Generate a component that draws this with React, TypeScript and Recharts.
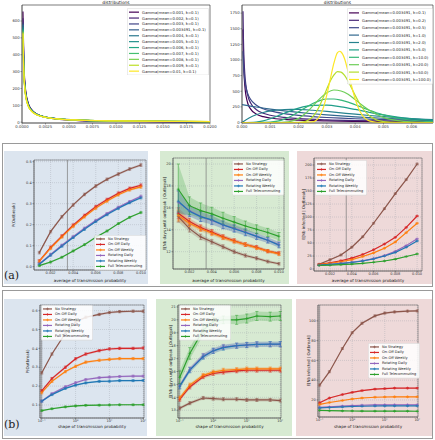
import React from "react";
import {
  ComposedChart,
  LineChart,
  Line,
  Area,
  XAxis,
  YAxis,
  CartesianGrid,
  ReferenceLine,
  ReferenceArea,
  ErrorBar,
  Legend,
} from "recharts";

// figure: two gamma-distribution panels on top, then (a) and (b) strategy comparisons

const FONT = "DejaVu Sans";

type Pt = [number, number];

// ---------- top-left: Gamma(mean, k=0.1) ----------
const TL_X = [0.0001, 0.0002, 0.0004, 0.0007, 0.001, 0.0015, 0.002, 0.003, 0.004, 0.006, 0.008, 0.01, 0.013, 0.016, 0.02];
const TL_LABELS = ["0.001", "0.002", "0.003", "0.003491", "0.004", "0.005", "0.006", "0.007", "0.008", "0.009", "0.01"];
const TL_COLORS = ["#440154", "#482475", "#414487", "#355f8d", "#2a788e", "#21918c", "#22a884", "#44bf70", "#7ad151", "#bddf26", "#fde725"];
const pdfM0010 = [656, 348, 183, 107, 75.6, 50, 36.7, 23, 16, 9.1, 5.8, 3.9, 2.3, 1.4, 0.76];
const pdfM0020 = [616, 328, 174, 104, 74, 50, 37.9, 25, 18.3, 11.5, 8.0, 5.95, 4.0, 2.9, 1.9];
const pdfM0030 = [592, 316, 168.5, 100.7, 72.4, 49.4, 37.6, 25.2, 18.8, 12.2, 8.8, 6.75, 4.8, 3.6, 2.6];
const pdfM0035 = [584, 312, 166, 99.5, 71.7, 49, 37.4, 25.2, 18.8, 12.4, 9.0, 7.0, 5.0, 3.8, 2.8];
const pdfM0040 = [576, 308, 164, 98.5, 70.9, 48.6, 37.2, 25.1, 18.9, 12.5, 9.2, 7.1, 5.2, 4.0, 3.0];
const pdfM0050 = [563, 301, 161, 96.6, 69.7, 47.9, 36.7, 24.9, 18.8, 12.6, 9.3, 7.3, 5.4, 4.25, 3.2];
const pdfM0060 = [553, 296, 158, 95, 68.6, 47.3, 36.3, 24.7, 18.7, 12.6, 9.4, 7.4, 5.6, 4.4, 3.4];
const pdfM0070 = [545, 292, 156, 93.8, 67.8, 46.8, 35.9, 24.5, 18.6, 12.6, 9.4, 7.5, 5.7, 4.5, 3.5];
const pdfM0080 = [538, 288, 154, 92.6, 67, 46.2, 35.5, 24.3, 18.5, 12.5, 9.4, 7.5, 5.7, 4.6, 3.6];
const pdfM0090 = [532, 285, 152, 91.6, 66.3, 45.8, 35.2, 24.1, 18.4, 12.5, 9.4, 7.5, 5.8, 4.6, 3.6];
const pdfM0100 = [526, 282, 151, 90.8, 65.7, 45.4, 34.9, 23.9, 18.3, 12.5, 9.4, 7.55, 5.8, 4.66, 3.66];
const TL_SERIES = [pdfM0010, pdfM0020, pdfM0030, pdfM0035, pdfM0040, pdfM0050, pdfM0060, pdfM0070, pdfM0080, pdfM0090, pdfM0100];

// ---------- top-right: Gamma(mean=0.003491, k) ----------
const TR_LABELS = ["0.1", "0.2", "0.5", "1.0", "2.0", "5.0", "10.0", "20.0", "50.0", "100.0"];
const TR_COLORS = ["#440154", "#482878", "#3e4989", "#31688e", "#26828e", "#1f9e89", "#35b779", "#6ece58", "#b5de2b", "#fde725"];
const k01: Pt[] = [[0.000035, 1490], [0.00005, 1092], [0.0001, 585], [0.0002, 312], [0.0003, 218], [0.0005, 136], [0.00075, 93], [0.001, 71.6], [0.0015, 49], [0.002, 37.3], [0.003, 25.2], [0.004, 18.9], [0.005, 15], [0.006, 12.4], [0.007, 10.5]];
const k02: Pt[] = [[0.000035, 1780], [0.00005, 1350], [0.0001, 776], [0.0002, 440], [0.0003, 316], [0.0005, 208], [0.00075, 148], [0.001, 116], [0.0015, 81], [0.002, 63], [0.003, 43], [0.004, 32], [0.005, 25.5], [0.006, 20.8], [0.007, 17.3]];
const k05: Pt[] = [[0.000035, 1141], [0.00005, 948], [0.0001, 666], [0.0002, 464], [0.0003, 373], [0.0005, 281], [0.00075, 221], [0.001, 185], [0.0015, 141], [0.002, 113], [0.0025, 94], [0.003, 80], [0.0035, 69], [0.004, 60], [0.005, 46.7], [0.006, 36.9], [0.007, 29.6]];
const k1: Pt[] = [[0, 286], [0.0005, 248], [0.001, 215], [0.0015, 186], [0.002, 161], [0.0025, 140], [0.003, 121], [0.0035, 105], [0.004, 91], [0.0045, 79], [0.005, 68], [0.0055, 59], [0.006, 51], [0.0065, 44.5], [0.007, 38.5]];
const k2: Pt[] = [[0, 0], [0.00025, 71], [0.0005, 123], [0.00075, 160], [0.001, 185], [0.0015, 208], [0.002, 209], [0.0025, 196], [0.003, 177], [0.0035, 155], [0.004, 133], [0.0045, 112], [0.005, 94], [0.0055, 77], [0.006, 63], [0.0065, 51], [0.007, 42]];
const k5: Pt[] = [[0, 0], [0.0005, 7.7], [0.00075, 27], [0.001, 60], [0.00125, 102], [0.0015, 148], [0.002, 229], [0.0025, 273], [0.003, 277], [0.0035, 250], [0.004, 209], [0.0045, 163], [0.005, 122], [0.0055, 87], [0.006, 60], [0.0065, 41], [0.007, 26.5]];
const k10: Pt[] = [[0, 0], [0.0005, 0.1], [0.001, 5.9], [0.00125, 21], [0.0015, 54], [0.00175, 105], [0.002, 171], [0.00225, 241], [0.0025, 304], [0.00275, 351], [0.003, 376], [0.00325, 376], [0.0035, 357], [0.00375, 327], [0.004, 284], [0.00425, 240], [0.0045, 197], [0.00475, 156], [0.005, 121], [0.0055, 68], [0.006, 36], [0.0065, 17.5], [0.007, 8]];
const k20: Pt[] = [[0, 0], [0.001, 0], [0.00125, 0.7], [0.0015, 4.9], [0.00175, 22], [0.002, 66], [0.00225, 147], [0.0025, 261], [0.00275, 381], [0.003, 475], [0.00325, 520], [0.0035, 504], [0.00375, 452], [0.004, 366], [0.00425, 276], [0.0045, 195], [0.00475, 131], [0.005, 82], [0.0055, 29], [0.006, 8.6], [0.0065, 2.5], [0.007, 0.6]];
const k50: Pt[] = [[0, 0], [0.0015, 0], [0.002, 2.1], [0.00225, 19], [0.0025, 92], [0.002625, 168], [0.00275, 274], [0.002875, 405], [0.003, 541], [0.003125, 667], [0.00325, 761], [0.003375, 815], [0.0035, 807], [0.003625, 753], [0.00375, 661], [0.003875, 547], [0.004, 434], [0.004125, 329], [0.00425, 236], [0.0045, 108], [0.00475, 42.7], [0.005, 14.6], [0.0055, 1.2], [0.006, 0], [0.007, 0]];
const k100: Pt[] = [[0, 0], [0.002, 0], [0.0025, 10.8], [0.002625, 37], [0.00275, 104.5], [0.002875, 237], [0.003, 445], [0.003125, 705], [0.00325, 953], [0.003375, 1118], [0.003456, 1140], [0.0035, 1129], [0.003625, 1021], [0.00375, 811], [0.003875, 583], [0.004, 376], [0.004125, 221], [0.00425, 119], [0.004375, 58], [0.0045, 26.3], [0.00475, 4.3], [0.005, 0], [0.007, 0]];
const TR_SERIES = [k01, k02, k05, k1, k2, k5, k10, k20, k50, k100];

// ---------- strategies ----------
const STRATEGIES = ["No Strategy", "On-Off Daily", "On-Off Weekly", "Rotating Daily", "Rotating Weekly", "Full Telecommuting"];
const STRAT_COLORS = ["#8c564b", "#d62728", "#ff7f0e", "#9467bd", "#1f77b4", "#2ca02c"];

const AVG_P = [0.001, 0.002, 0.003, 0.004, 0.005, 0.006, 0.007, 0.008, 0.009, 0.01];
const SHAPE_K = [0.1, 0.2, 0.5, 1, 2, 5, 10, 20, 50, 100];
const AVG_TICKS = [0.002, 0.004, 0.006, 0.008, 0.01];
const SHAPE_TICKS = [0.1, 1, 10, 100];
const CURRENT_P = 0.003491;
const CURRENT_K = 0.1;

const A_P_OUTBREAK = [
  [0.067, 0.167, 0.238, 0.294, 0.344, 0.384, 0.416, 0.441, 0.465, 0.484],
  [0.027, 0.092, 0.146, 0.198, 0.244, 0.286, 0.32, 0.35, 0.373, 0.388],
  [0.026, 0.088, 0.142, 0.193, 0.238, 0.279, 0.313, 0.343, 0.366, 0.38],
  [0.013, 0.058, 0.102, 0.143, 0.183, 0.22, 0.253, 0.283, 0.31, 0.335],
  [0.012, 0.055, 0.098, 0.139, 0.178, 0.215, 0.248, 0.278, 0.305, 0.328],
  [0.005, 0.022, 0.045, 0.075, 0.105, 0.14, 0.17, 0.205, 0.235, 0.258],
];
const A_P_OUTBREAK_ERR = [0.006, 0.006, 0.006, 0.005, 0.005, 0.004];

const A_DAYS = [
  [15.2, 14.1, 13.35, 12.9, 12.45, 12.0, 11.65, 11.4, 11.1, 10.9],
  [15.5, 14.75, 14.2, 13.8, 13.35, 13.0, 12.65, 12.4, 12.05, 11.85],
  [15.3, 14.6, 14.1, 13.7, 13.3, 12.95, 12.65, 12.35, 12.05, 11.8],
  [16.5, 15.75, 15.2, 14.85, 14.45, 14.15, 13.8, 13.4, 13.05, 12.65],
  [16.6, 15.7, 15.2, 14.9, 14.45, 14.1, 13.75, 13.4, 13.05, 12.6],
  [17.7, 16.2, 15.75, 15.45, 15.05, 14.7, 14.35, 14.05, 13.75, 13.4],
];
const A_DAYS_ERR = [
  [0.5, 0.3, 0.25, 0.2, 0.18, 0.16, 0.15, 0.14, 0.13, 0.12],
  [0.5, 0.3, 0.25, 0.22, 0.2, 0.18, 0.17, 0.16, 0.15, 0.15],
  [0.5, 0.3, 0.25, 0.22, 0.2, 0.18, 0.17, 0.16, 0.15, 0.15],
  [1.0, 0.5, 0.45, 0.4, 0.35, 0.32, 0.3, 0.28, 0.26, 0.25],
  [1.0, 0.5, 0.45, 0.4, 0.35, 0.32, 0.3, 0.28, 0.26, 0.25],
  [2.3, 0.8, 0.7, 0.6, 0.55, 0.5, 0.45, 0.4, 0.38, 0.35],
];

const A_INFECTED = [
  [9, 18, 27, 42, 62, 88, 116, 145, 172, 202],
  [9, 12, 16, 21, 28, 37, 48, 61, 80, 102],
  [8.5, 11, 14, 18, 24, 31, 40, 52, 70, 88],
  [7.5, 9, 11, 13, 16, 20, 26, 34, 45, 58],
  [7.5, 9, 10.5, 12.5, 15.5, 19.5, 25, 32, 42, 54],
  [7, 7.5, 8.5, 9.5, 11, 13, 15.5, 19, 24, 29],
];
const A_INFECTED_ERR = [1.5, 1.0, 1.0, 0.8, 0.8, 0.5];

const B_P_OUTBREAK = [
  [0.27, 0.37, 0.48, 0.54, 0.565, 0.58, 0.59, 0.595, 0.597, 0.597],
  [0.175, 0.24, 0.3, 0.345, 0.37, 0.388, 0.397, 0.4, 0.4, 0.402],
  [0.165, 0.225, 0.277, 0.305, 0.327, 0.337, 0.342, 0.346, 0.346, 0.346],
  [0.12, 0.16, 0.197, 0.218, 0.235, 0.245, 0.248, 0.251, 0.253, 0.253],
  [0.12, 0.155, 0.188, 0.205, 0.217, 0.225, 0.226, 0.229, 0.229, 0.23],
  [0.07, 0.08, 0.09, 0.095, 0.098, 0.099, 0.1, 0.101, 0.101, 0.101],
];
const B_P_OUTBREAK_ERR = [0.006, 0.006, 0.006, 0.005, 0.005, 0.004];

const B_DAYS = [
  [13.15, 13.55, 13.95, 13.9, 13.85, 13.85, 13.8, 13.8, 13.8, 13.75],
  [13.85, 14.8, 15.6, 15.85, 15.95, 16.05, 16.1, 16.1, 16.1, 16.1],
  [13.95, 14.95, 15.7, 15.95, 16.1, 16.15, 16.2, 16.2, 16.2, 16.2],
  [14.9, 16.15, 17.2, 17.6, 17.9, 18.0, 18.05, 18.1, 18.1, 18.1],
  [14.85, 16.1, 17.15, 17.6, 17.85, 18.0, 18.05, 18.1, 18.12, 18.12],
  [15.55, 17.4, 19.2, 19.85, 20.0, 20.0, 20.1, 20.3, 20.25, 20.3],
];
const B_DAYS_ERR: (number | number[])[] = [0.12, 0.15, 0.15, 0.2, 0.2, [0.5, 0.45, 0.4, 0.35, 0.3, 0.35, 0.35, 0.35, 0.35, 0.35]];

const B_INFECTED = [
  [35, 48.6, 72, 88, 97.5, 105, 107.8, 109, 109.8, 110],
  [17.2, 22, 25.5, 27.7, 29.5, 31, 31.5, 32, 32, 32],
  [15.5, 17.5, 19.5, 21, 22, 22.8, 23, 23.2, 23.2, 23.2],
  [12.5, 13, 13.8, 14.3, 14.7, 15, 15.1, 15.2, 15.2, 15.2],
  [12, 12.4, 13, 13.4, 13.7, 13.9, 14, 14, 14, 14],
  [9.5, 9.2, 9.0, 8.9, 8.8, 8.7, 8.7, 8.7, 8.7, 8.6],
];
const B_INFECTED_ERR = [1.0, 0.6, 0.5, 0.4, 0.4, 0.3];

// ---------- shared bits ----------
type Box = { left: number; top: number; w: number; h: number };

const distTick = { fontSize: 3.8, fill: "#333", fontFamily: FONT };
const stratTick = { fontSize: 3.5, fill: "#333", fontFamily: FONT };
const axisStroke = { stroke: "#444", strokeWidth: 0.5 };
const SUPER: Record<string, string> = { "-1": "10\u207B\u00B9", "0": "10\u2070", "1": "10\u00B9", "2": "10\u00B2" };
const fmtLog = (v: number) => SUPER[String(Math.round(Math.log10(v)))] ?? String(v);

const plusDot = (color: string) => (p: any) => {
  if (p.cx == null || p.cy == null) return <g key={`d${p.index}`} />;
  return (
    <path
      key={`d${p.index}`}
      d={`M${p.cx - 1.5},${p.cy}h3M${p.cx},${p.cy - 1.5}v3`}
      stroke={color}
      strokeWidth={0.6}
      fill="none"
    />
  );
};

// legend drawn in series order (recharts sorts by name otherwise)
const legendBox =
  (o: { w: number; rowH: number; font: number; line: number; order: string[]; marker?: boolean }) => (props: any) => {
    const items = (props.payload ?? [])
      .filter((it: any) => it.type !== "none" && o.order.includes(it.value))
      .sort((a: any, b: any) => o.order.indexOf(a.value) - o.order.indexOf(b.value));
    const h = items.length * o.rowH + 2.5;
    return (
      <svg width={o.w} height={h} style={{ display: "block" }}>
        <rect x={0.3} y={0.3} width={o.w - 0.6} height={h - 0.6} rx={1.2} fill="#fff" fillOpacity={0.85} stroke="#ccc" strokeWidth={0.5} />
        {items.map((it: any, i: number) => {
          const y = 1.2 + o.rowH * (i + 0.5);
          const c = it.color;
          return (
            <g key={it.value}>
              <line x1={2} x2={2 + o.line} y1={y} y2={y} stroke={c} strokeWidth={1.2} />
              {o.marker && <path d={`M${2 + o.line / 2 - 1.4},${y}h2.8M${2 + o.line / 2},${y - 1.4}v2.8`} stroke={c} strokeWidth={0.6} />}
              <text x={5 + o.line} y={y} dominantBaseline="central" fontSize={o.font} fill="#222" fontFamily={FONT}>
                {it.value}
              </text>
            </g>
          );
        })}
      </svg>
    );
  };

// ---------- distribution panels ----------
const DL = 20, DR = 10, DT = 5, DB = 10;

function DistPlot(props: {
  box: Box;
  series: { name: string; color: string; pts: Pt[] }[];
  xDomain: [number, number];
  yDomain: [number, number];
  xTicks: number[];
  yTicks: number[];
  xFmt: (v: number) => string;
  legend: { x: number; y: number; w: number; rowH: number; line: number };
}) {
  const { box, series, xDomain, yDomain, xTicks, yTicks, xFmt, legend } = props;
  const left = box.left - DL;
  const top = box.top - DT;
  return (
    <div style={{ position: "absolute", left, top }}>
      <LineChart width={box.w + DL + DR} height={box.h + DT + DB} margin={{ top: DT, right: DR, bottom: 0, left: 0 }}>
        <XAxis dataKey="x" type="number" domain={xDomain} ticks={xTicks} tickFormatter={xFmt} allowDataOverflow
          height={DB} tick={distTick} tickSize={1.5} tickMargin={0.5} axisLine={axisStroke} tickLine={axisStroke} interval={0} />
        <YAxis dataKey="y" type="number" domain={yDomain} ticks={yTicks} allowDataOverflow width={DL}
          tick={distTick} tickSize={1.5} tickMargin={0.8} axisLine={axisStroke} tickLine={axisStroke} interval={0} />
        <ReferenceArea x1={xDomain[0]} x2={xDomain[1]} y1={yDomain[0]} y2={yDomain[1]} fill="none" stroke="#222" strokeWidth={0.6}
          ifOverflow="visible"
          label={{ value: "distributions", position: "top", offset: 1.2, fontSize: 4.4, fill: "#222", fontFamily: FONT }} />
        {series.map((s) => (
          <Line key={s.name} data={s.pts.map(([x, y]) => ({ x, y }))} dataKey="y" name={s.name} stroke={s.color}
            strokeWidth={1.2} dot={false} type="monotone" isAnimationActive={false} />
        ))}
        <Legend layout="vertical" align="center" verticalAlign="middle"
          content={legendBox({ w: legend.w, rowH: legend.rowH, font: 3.8, line: legend.line, order: series.map((s) => s.name) })}
          wrapperStyle={{ left: legend.x - left, top: legend.y - top, width: "auto", height: "auto" }} />
      </LineChart>
    </div>
  );
}

// ---------- strategy panels ----------
const PL = 30, PR = 4, PT = 6, PB = 18;

function StratPlot(props: {
  box: Box;
  xs: number[];
  vals: number[][];
  errs: (number | number[])[];
  log?: boolean;
  xDomain: [number, number];
  yDomain: [number, number];
  xTicks: number[];
  yTicks: number[];
  xFmt: (v: number) => string;
  yFmt: (v: number) => string;
  vline: number;
  xLabel: string;
  yLabel: string;
  xLabY: number;
  yLabX: number;
  legend: { x: number; y: number };
}) {
  const p = props;
  const left = p.box.left - PL;
  const top = p.box.top - PT;
  const rows = p.xs.map((x, i) => {
    const r: Record<string, any> = { x };
    p.vals.forEach((s, j) => {
      const ej = p.errs[j];
      const e = Array.isArray(ej) ? ej[i] : ej;
      r[`v${j}`] = s[i];
      r[`e${j}`] = e;
      r[`b${j}`] = [s[i] - e, s[i] + e];
    });
    return r;
  });
  const xLab = (lp: any) => {
    const vb = lp.viewBox ?? {};
    return (
      <text x={(vb.x ?? PL) + (vb.width ?? p.box.w) / 2} y={p.xLabY - top} textAnchor="middle" fontSize={4.1} fill="#222" fontFamily={FONT}>
        {p.xLabel}
      </text>
    );
  };
  const yLab = (lp: any) => {
    const vb = lp.viewBox ?? {};
    const cx = p.yLabX - left;
    const cy = (vb.y ?? PT) + (vb.height ?? p.box.h) / 2;
    return (
      <text x={cx} y={cy} transform={`rotate(-90 ${cx} ${cy})`} textAnchor="middle" dominantBaseline="central" fontSize={4.0} fill="#222" fontFamily={FONT}>
        {p.yLabel}
      </text>
    );
  };
  return (
    <div style={{ position: "absolute", left, top }}>
      <ComposedChart width={p.box.w + PL + PR} height={p.box.h + PT + PB} data={rows} margin={{ top: PT, right: PR, bottom: 0, left: 0 }}>
        <CartesianGrid stroke="#9aa0a8" strokeWidth={0.35} strokeDasharray="1 1" />
        <XAxis dataKey="x" type="number" scale={p.log ? "log" : "linear"} domain={p.xDomain} ticks={p.xTicks} tickFormatter={p.xFmt}
          allowDataOverflow height={PB} tick={stratTick} tickSize={1.5} tickMargin={0.5} axisLine={axisStroke} tickLine={axisStroke}
          interval={0} label={xLab} />
        <YAxis type="number" domain={p.yDomain} ticks={p.yTicks} tickFormatter={p.yFmt} allowDataOverflow width={PL}
          tick={stratTick} tickSize={1.5} tickMargin={0.8} axisLine={axisStroke} tickLine={axisStroke} interval={0} label={yLab} />
        <ReferenceArea x1={p.xDomain[0]} x2={p.xDomain[1]} y1={p.yDomain[0]} y2={p.yDomain[1]} fill="none" stroke="#555"
          strokeWidth={0.5} ifOverflow="visible" />
        <ReferenceLine x={p.vline} stroke="#7a7a7a" strokeWidth={0.7} />
        {p.vals.map((_, j) => (
          <Area key={`b${j}`} dataKey={`b${j}`} stroke="none" fill={STRAT_COLORS[j]} fillOpacity={0.22}
            isAnimationActive={false} legendType="none" />
        ))}
        {p.vals.map((_, j) => (
          <Line key={`l${j}`} dataKey={`v${j}`} name={STRATEGIES[j]} stroke={STRAT_COLORS[j]} strokeWidth={1.15}
            dot={plusDot(STRAT_COLORS[j])} activeDot={false} isAnimationActive={false}>
            <ErrorBar dataKey={`e${j}`} width={1.6} stroke={STRAT_COLORS[j]} strokeWidth={0.5} />
          </Line>
        ))}
        <Legend layout="vertical" align="center" verticalAlign="middle"
          content={legendBox({ w: 52, rowH: 5.5, font: 3.55, line: 9, marker: true, order: STRATEGIES })}
          wrapperStyle={{ left: p.legend.x - left, top: p.legend.y - top, width: "auto", height: "auto" }} />
      </ComposedChart>
    </div>
  );
}

const fx3 = (v: number) => v.toFixed(3);
const fx1 = (v: number) => v.toFixed(1);
const fint = (v: number) => String(v);

export default function App() {
  const tlSeries = TL_SERIES.map((ys, i) => ({
    name: `Gamma(mean=${TL_LABELS[i]}, k=0.1)`,
    color: TL_COLORS[i],
    pts: TL_X.map((x, j) => [x, ys[j]] as Pt),
  }));
  const trSeries = TR_SERIES.map((pts, i) => ({
    name: `Gamma(mean=0.003491, k=${TR_LABELS[i]})`,
    color: TR_COLORS[i],
    pts,
  }));

  const panel = (l: number, t: number, w: number, h: number, bg: string) => (
    <div style={{ position: "absolute", left: l, top: t, width: w, height: h, background: bg }} />
  );
  const BLUE = "#dce5ef";
  const GREEN = "#d7ead2";
  const PINK = "#eed9d9";

  return (
    <div style={{ position: "absolute", left: 0, top: 0, width: 435, height: 440, background: "#fff", fontFamily: FONT, overflow: "hidden" }}>
      <DistPlot box={{ left: 22, top: 5, w: 188, h: 118 }} series={tlSeries} xDomain={[0, 0.02]} yDomain={[-5, 695]}
        xTicks={[0, 0.0025, 0.005, 0.0075, 0.01, 0.0125, 0.015, 0.0175, 0.02]} yTicks={[0, 100, 200, 300, 400, 500, 600]}
        xFmt={(v) => v.toFixed(4)} legend={{ x: 127, y: 8, w: 82, rowH: 5.9, line: 10 }} />
      <DistPlot box={{ left: 242, top: 5, w: 191, h: 118 }} series={trSeries} xDomain={[0, 0.00675]} yDomain={[-8, 1880]}
        xTicks={[0, 0.001, 0.002, 0.003, 0.004, 0.005, 0.006]} yTicks={[0, 250, 500, 750, 1000, 1250, 1500, 1750]}
        xFmt={fx3} legend={{ x: 347, y: 8, w: 86, rowH: 7.4, line: 10 }} />

      {/* (a) */}
      <div style={{ position: "absolute", left: 2, top: 143, width: 429, height: 142, border: "1px solid #9a9a9a" }} />
      {panel(4, 151, 144, 133, BLUE)}
      {panel(160, 151, 129, 133, GREEN)}
      {panel(297, 151, 135, 133, PINK)}
      <StratPlot box={{ left: 34, top: 160, w: 112, h: 110 }} xs={AVG_P} vals={A_P_OUTBREAK} errs={A_P_OUTBREAK_ERR}
        xDomain={[0.00053, 0.01045]} yDomain={[-0.0157, 0.508]} xTicks={AVG_TICKS} yTicks={[0, 0.1, 0.2, 0.3, 0.4, 0.5]}
        xFmt={fx3} yFmt={fx1} vline={CURRENT_P} xLabel="average of transmission probability" yLabel="P(Outbreak)"
        xLabY={282} yLabX={13} legend={{ x: 94, y: 235 }} />
      <StratPlot box={{ left: 173, top: 158, w: 111, h: 111 }} xs={AVG_P} vals={A_DAYS} errs={A_DAYS_ERR}
        xDomain={[0.00053, 0.01045]} yDomain={[10.42, 20.55]} xTicks={AVG_TICKS} yTicks={[12, 14, 16, 18, 20]}
        xFmt={fx3} yFmt={fint} vline={CURRENT_P} xLabel="average of transmission probability"
        yLabel="E[Nb days until outbreak | Outbreak]" xLabY={282} yLabX={164} legend={{ x: 232, y: 160 }} />
      <StratPlot box={{ left: 314, top: 158, w: 108, h: 113 }} xs={AVG_P} vals={A_INFECTED} errs={A_INFECTED_ERR}
        xDomain={[0.00053, 0.01045]} yDomain={[-3.8, 213.5]} xTicks={AVG_TICKS} yTicks={[0, 25, 50, 75, 100, 125, 150, 175, 200]}
        xFmt={fx3} yFmt={fint} vline={CURRENT_P} xLabel="average of transmission probability"
        yLabel="E[Nb infected | Outbreak]" xLabY={282} yLabX={303} legend={{ x: 315, y: 160 }} />
      <div style={{ position: "absolute", left: 4, top: 270, fontFamily: "DejaVu Serif", fontSize: 11, color: "#222", lineHeight: "12px" }}>(a)</div>

      {/* (b) */}
      <div style={{ position: "absolute", left: 2, top: 290, width: 429, height: 147, border: "1px solid #9a9a9a" }} />
      {panel(4, 299, 143, 137, BLUE)}
      {panel(156, 299, 136, 137, GREEN)}
      {panel(296, 299, 136, 137, PINK)}
      <StratPlot box={{ left: 40, top: 305, w: 104, h: 113 }} xs={SHAPE_K} vals={B_P_OUTBREAK} errs={B_P_OUTBREAK_ERR} log
        xDomain={[0.089, 105]} yDomain={[0.031, 0.63]} xTicks={SHAPE_TICKS} yTicks={[0.1, 0.2, 0.3, 0.4, 0.5, 0.6]}
        xFmt={fmtLog} yFmt={fx1} vline={CURRENT_K} xLabel="shape of transmission probability" yLabel="P(Outbreak)"
        xLabY={428} yLabX={27} legend={{ x: 41, y: 305 }} />
      <StratPlot box={{ left: 178, top: 305, w: 103, h: 113 }} xs={SHAPE_K} vals={B_DAYS} errs={B_DAYS_ERR} log
        xDomain={[0.089, 105]} yDomain={[12.4, 21.15]} xTicks={SHAPE_TICKS} yTicks={[13, 14, 15, 16, 17, 18, 19, 20, 21]}
        xFmt={fmtLog} yFmt={fint} vline={CURRENT_K} xLabel="shape of transmission probability"
        yLabel="E[Nb days until outbreak | Outbreak]" xLabY={428} yLabX={170} legend={{ x: 179, y: 305 }} />
      <StratPlot box={{ left: 318, top: 305, w: 100, h: 112 }} xs={SHAPE_K} vals={B_INFECTED} errs={B_INFECTED_ERR} log
        xDomain={[0.089, 105]} yDomain={[2.8, 116]} xTicks={SHAPE_TICKS} yTicks={[20, 40, 60, 80, 100]}
        xFmt={fmtLog} yFmt={fint} vline={CURRENT_K} xLabel="shape of transmission probability"
        yLabel="E[Nb infected | Outbreak]" xLabY={428} yLabX={308} legend={{ x: 368, y: 343 }} />
      <div style={{ position: "absolute", left: 4, top: 419, fontFamily: "DejaVu Serif", fontSize: 11, color: "#222", lineHeight: "12px" }}>(b)</div>
    </div>
  );
}
